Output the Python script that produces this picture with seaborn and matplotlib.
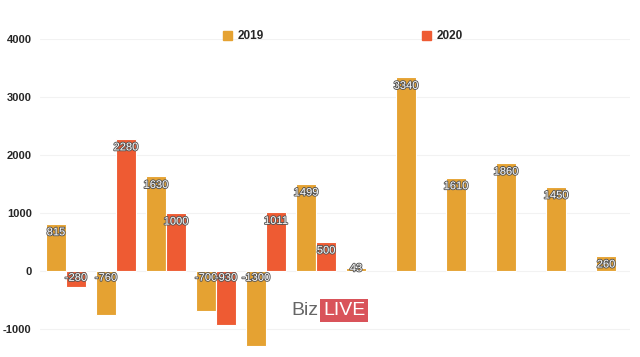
import numpy as np
import pandas as pd
import matplotlib
matplotlib.use('Agg')
import matplotlib.pyplot as plt
import matplotlib.patheffects as pe
import seaborn as sns

# du lieu doc tu hinh
groups = list(range(1, 13))
vals_2019 = [815, -760, 1630, -700, -1300, 1499, 43, 3340, 1610, 1860, 1450, 260]
vals_2020 = [-280, 2280, 1000, -930, 1011, 500, np.nan, np.nan, np.nan, np.nan, np.nan, np.nan]
series = ['2019', '2020']
colors = ['#E5A232', '#EE5B33']
yticks = [-1000, 0, 1000, 2000, 3000, 4000]

df = pd.DataFrame({
    'group': groups * 2,
    'year': ['2019'] * 12 + ['2020'] * 12,
    'value': vals_2019 + vals_2020,
})

sns.set_style('white')
plt.rcParams['font.family'] = ['Liberation Sans', 'DejaVu Sans']

fig = plt.figure(figsize=(6.4, 3.57), dpi=100)
ax = fig.add_axes([0.0625, 0.022, 0.922, 0.869])

sns.barplot(data=df, x='group', y='value', hue='year', hue_order=series,
            palette=colors, saturation=1, width=0.8, edgecolor='white',
            linewidth=0.8, ax=ax, legend=False)

ax.set_ylim(-1350, 4000)
ax.set_xlim(-0.52, 11.28)
ax.set_yticks(yticks)
ax.set_yticklabels([str(t) for t in yticks], fontsize=8, fontweight='bold')
ax.tick_params(axis='y', length=0, pad=6)
ax.set_xticks([])
ax.set_xlabel('')
ax.set_ylabel('')
for s in ax.spines.values():
    s.set_visible(False)
ax.grid(axis='y', color='#f2f2f2', linewidth=0.8)
ax.set_axisbelow(True)

# nhan gia tri tren cot
fx = [pe.withStroke(linewidth=1.3, foreground='#555555')]
for cont in ax.containers:
    for bar in cont:
        h = bar.get_height()
        if np.isnan(h):
            continue
        x = bar.get_x() + bar.get_width() / 2
        y = h - 150 if h > 0 else -120
        if 0 < h < 200:
            y = h
        ax.text(x, y, f'{int(h)}', ha='center', va='center', color='white',
                fontsize=8, path_effects=fx, zorder=5)

# chu thich
for i, (lab, c) in enumerate(zip(series, colors)):
    x0 = 0.348 + i * 0.311
    fig.patches.append(plt.Rectangle((x0, 0.888), 0.014, 0.025, color=c,
                                     transform=fig.transFigure, figure=fig))
    fig.text(x0 + 0.023, 0.9, lab, fontsize=8.5, fontweight='bold', va='center')

# watermark
fig.text(0.455, 0.13, 'Biz', fontsize=14, color='#666666', va='center')
fig.text(0.505, 0.13, 'LIVE', fontsize=14, color='white', va='center',
         bbox=dict(boxstyle='square,pad=0.15', fc='#D9535A', ec='none'))

fig.savefig('out.png', dpi=100)
